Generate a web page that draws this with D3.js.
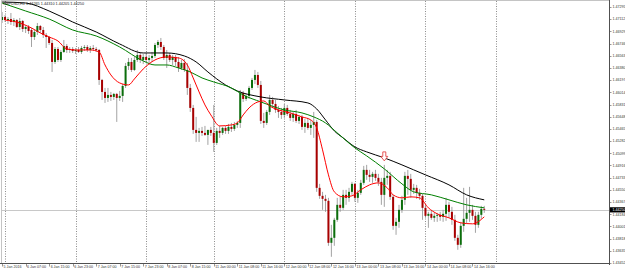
<!DOCTYPE html>
<html>
<head>
<meta charset="utf-8">
<script src="https://cdn.jsdelivr.net/npm/d3@7"></script>
<style>
  body { margin: 0; background: #fff; }
  svg { display: block; }
</style>
</head>
<body>
<script>
// GBPUSD,H1 - 5 Jan 23:00 .. 14 Jan 20:00, one bar per hour
const symbol = "GBPUSD,H1";

const open = [
  1.47100,1.47145,1.47100,1.47115,1.47070,1.47100,1.46995,1.47085,1.46965,1.46995,
  1.46950,1.46845,1.46920,1.47010,1.46950,1.46875,1.46845,1.46755,1.46470,1.46665,
  1.46500,1.46620,1.46710,1.46650,1.46665,1.46635,1.46650,1.46620,1.46680,1.46695,
  1.46650,1.46680,1.46665,1.46650,1.46200,1.46020,1.45930,1.45975,1.45945,1.45990,
  1.45930,1.45960,1.46110,1.46410,1.46470,1.46350,1.46500,1.46575,1.46500,1.46545,
  1.46500,1.46530,1.46560,1.46725,1.46770,1.46695,1.46530,1.46575,1.46500,1.46545,
  1.46470,1.46380,1.46455,1.46350,1.46080,1.45780,1.45450,1.45405,1.45435,1.45405,
  1.45375,1.45450,1.45405,1.45255,1.45435,1.45405,1.45480,1.45435,1.45495,1.45465,
  1.45525,1.45555,1.46005,1.45915,1.45960,1.46080,1.46200,1.46275,1.46125,1.45585,
  1.45555,1.45720,1.45900,1.45840,1.45750,1.45720,1.45675,1.45780,1.45690,1.45630,
  1.45690,1.45585,1.45645,1.45495,1.45555,1.45480,1.45525,1.45570,1.44580,1.44460,
  1.44415,1.44385,1.43755,1.43830,1.44100,1.44325,1.44280,1.44475,1.44430,1.44520,
  1.44640,1.44430,1.44505,1.44655,1.44850,1.44775,1.44745,1.44790,1.44730,1.44670,
  1.44475,1.44730,1.44760,1.44445,1.44010,1.44070,1.44250,1.44400,1.44760,1.44715,
  1.44550,1.44580,1.44505,1.44460,1.44280,1.44160,1.44190,1.44130,1.44160,1.44175,
  1.44145,1.44190,1.44325,1.44220,1.44100,1.43830,1.43725,1.44010,1.44115,1.44205,
  1.44250,1.44160,1.44025,1.44175,1.44265
];
const high = [
  1.47220,1.47175,1.47145,1.47205,1.47130,1.47115,1.47130,1.47100,1.47025,1.47025,
  1.46980,1.46950,1.47055,1.47025,1.46995,1.46905,1.46860,1.46800,1.46695,1.46695,
  1.46650,1.46800,1.46740,1.46695,1.46695,1.46680,1.46695,1.46710,1.46725,1.46725,
  1.46710,1.46725,1.46695,1.46665,1.46215,1.46080,1.46080,1.46020,1.46005,1.46005,
  1.46035,1.46140,1.46455,1.46530,1.46530,1.46545,1.46650,1.46620,1.46590,1.46605,
  1.46575,1.46620,1.46755,1.46800,1.46830,1.46725,1.46650,1.46605,1.46575,1.46575,
  1.46545,1.46500,1.46515,1.46455,1.46140,1.45825,1.45645,1.45480,1.45495,1.45510,
  1.45450,1.45495,1.45825,1.45480,1.45510,1.45495,1.45510,1.45540,1.45555,1.45570,
  1.45585,1.46050,1.46035,1.45990,1.46110,1.46230,1.46350,1.46320,1.46185,1.45705,
  1.45750,1.45975,1.45945,1.45900,1.45810,1.45780,1.45840,1.45825,1.45750,1.45720,
  1.45750,1.45675,1.45675,1.45615,1.45630,1.45600,1.45720,1.45600,1.44640,1.44520,
  1.44475,1.44430,1.44025,1.44130,1.44430,1.44445,1.44550,1.44550,1.44580,1.44670,
  1.44655,1.44550,1.44700,1.44910,1.44925,1.44850,1.44820,1.44850,1.44790,1.44730,
  1.44925,1.44850,1.44820,1.44475,1.44130,1.44325,1.44460,1.44820,1.44850,1.44790,
  1.44640,1.44625,1.44565,1.44490,1.44325,1.44220,1.44235,1.44205,1.44205,1.44220,
  1.44250,1.44430,1.44370,1.44295,1.44175,1.43875,1.44070,1.44580,1.44430,1.44595,
  1.44325,1.44220,1.44220,1.44310,1.44310
];
const low = [
  1.47055,1.47070,1.47040,1.47025,1.47010,1.46980,1.46950,1.46920,1.46905,1.46890,
  1.46695,1.46800,1.46875,1.46905,1.46830,1.46680,1.46725,1.46320,1.46440,1.46470,
  1.46470,1.46605,1.46605,1.46605,1.46605,1.46590,1.46605,1.46590,1.46635,1.46620,
  1.46605,1.46635,1.46620,1.46125,1.45900,1.45855,1.45870,1.45885,1.45900,1.45570,
  1.45885,1.45870,1.46080,1.46350,1.46320,1.46335,1.46470,1.46455,1.46440,1.46470,
  1.46425,1.46470,1.46530,1.46680,1.46650,1.46500,1.46380,1.46470,1.46425,1.46410,
  1.46320,1.46350,1.46320,1.45975,1.45720,1.45390,1.45270,1.45270,1.45360,1.45360,
  1.45225,1.45360,1.45120,1.45225,1.45330,1.45375,1.45390,1.45390,1.45420,1.45435,
  1.45480,1.45480,1.45870,1.45885,1.45915,1.46050,1.46140,1.46080,1.45540,1.45480,
  1.45525,1.45675,1.45780,1.45705,1.45630,1.45615,1.45630,1.45660,1.45585,1.45570,
  1.45555,1.45540,1.45450,1.45405,1.45450,1.45375,1.45330,1.44520,1.44415,1.44250,
  1.44220,1.43710,1.43545,1.43710,1.44070,1.44220,1.44250,1.44325,1.44370,1.44475,
  1.44370,1.44355,1.44475,1.44625,1.44700,1.44670,1.44655,1.44685,1.44610,1.44325,
  1.44295,1.44625,1.44400,1.43950,1.43875,1.43980,1.44205,1.44325,1.44475,1.44430,
  1.44490,1.44415,1.44400,1.44100,1.44130,1.43980,1.44100,1.44070,1.44070,1.44085,
  1.44070,1.44085,1.44130,1.44025,1.43785,1.43650,1.43680,1.43920,1.44040,1.44070,
  1.44100,1.43905,1.43980,1.44115,1.44205
];
const close = [
  1.47145,1.47100,1.47115,1.47070,1.47100,1.46995,1.47085,1.46965,1.46995,1.46935,
  1.46845,1.46920,1.47010,1.46950,1.46875,1.46845,1.46755,1.46470,1.46665,1.46500,
  1.46620,1.46710,1.46650,1.46665,1.46635,1.46650,1.46620,1.46680,1.46695,1.46650,
  1.46680,1.46665,1.46650,1.46200,1.46020,1.45930,1.45975,1.45945,1.45990,1.45930,
  1.45960,1.46110,1.46410,1.46470,1.46350,1.46500,1.46575,1.46500,1.46545,1.46500,
  1.46530,1.46560,1.46725,1.46770,1.46695,1.46530,1.46575,1.46500,1.46545,1.46470,
  1.46380,1.46455,1.46350,1.46080,1.45780,1.45450,1.45405,1.45435,1.45405,1.45375,
  1.45450,1.45405,1.45255,1.45435,1.45405,1.45480,1.45435,1.45495,1.45465,1.45525,
  1.45555,1.46005,1.45915,1.45960,1.46080,1.46200,1.46275,1.46125,1.45585,1.45555,
  1.45720,1.45900,1.45840,1.45750,1.45720,1.45675,1.45780,1.45690,1.45630,1.45690,
  1.45585,1.45645,1.45495,1.45555,1.45480,1.45525,1.45570,1.44580,1.44460,1.44415,
  1.44385,1.43755,1.43830,1.44100,1.44325,1.44280,1.44475,1.44430,1.44520,1.44640,
  1.44430,1.44505,1.44655,1.44850,1.44775,1.44745,1.44790,1.44730,1.44670,1.44475,
  1.44730,1.44760,1.44445,1.44010,1.44070,1.44250,1.44400,1.44760,1.44715,1.44550,
  1.44580,1.44505,1.44460,1.44280,1.44160,1.44190,1.44130,1.44160,1.44175,1.44145,
  1.44190,1.44325,1.44220,1.44100,1.43830,1.43725,1.44010,1.44115,1.44205,1.44250,
  1.44160,1.44025,1.44175,1.44265,1.44250
];

// moving averages at these bars
const maBlackBars = [0,8,16,24,32,40,48,56,62,66,70,76,80,88,96,104,107,110,113,116,120,124,130,136,140,144,152,158,164];
const maBlack = [1.47370,1.47355,1.47235,1.47070,1.46920,1.46740,1.46605,1.46605,1.46560,1.46470,1.46320,1.46125,1.46035,1.45945,1.45900,1.45855,1.45765,1.45600,1.45435,1.45330,1.45195,1.45120,1.45030,1.44925,1.44850,1.44775,1.44625,1.44475,1.44400];
const maGreenBars = [0,8,16,24,32,40,48,52,56,60,64,68,72,78,82,88,96,102,106,110,114,120,124,130,136,140,146,152,158,164];
const maGreen = [1.47355,1.47235,1.47115,1.46950,1.46860,1.46695,1.46485,1.46425,1.46425,1.46380,1.46320,1.46230,1.46170,1.46080,1.45975,1.45870,1.45750,1.45705,1.45645,1.45555,1.45405,1.45180,1.45060,1.44865,1.44640,1.44520,1.44475,1.44400,1.44325,1.44280];
const maRedBars = [1,6,10,13,16,19,22,25,30,33,35,37,40,43,45,48,52,56,60,63,65,67,69,71,74,78,80,82,84,87,89,91,94,98,102,105,107,109,111,113,116,119,122,125,128,131,133,136,139,142,145,148,152,156,160,164];
const maRed = [1.47100,1.47055,1.46980,1.46905,1.46845,1.46785,1.46665,1.46650,1.46650,1.46620,1.46425,1.46275,1.46155,1.46125,1.46215,1.46365,1.46500,1.46545,1.46530,1.46425,1.46230,1.46020,1.45825,1.45675,1.45510,1.45525,1.45555,1.45675,1.45780,1.45870,1.45885,1.45810,1.45750,1.45705,1.45645,1.45600,1.45480,1.45150,1.44775,1.44520,1.44445,1.44460,1.44550,1.44625,1.44655,1.44580,1.44475,1.44430,1.44445,1.44430,1.44280,1.44190,1.44130,1.44055,1.44040,1.44145];

// fractal arrow
const arrowBar = 130, arrowPrice = 1.45120;

// day separators (first bar of each day)
const dayStarts = [1,25,49,72,96,120,144,168];

// time axis
const timeBars = [0,8,16,24,32,40,48,56,64,72,80,88,96,104,112,120,128,136,144,152,160];
const timeLabels = ["5 Jan 2016","6 Jan 07:00","6 Jan 15:00","6 Jan 23:00","7 Jan 07:00","7 Jan 15:00","7 Jan 23:00",
  "8 Jan 07:00","8 Jan 15:00","11 Jan 00:00","11 Jan 08:00","11 Jan 16:00","12 Jan 00:00","12 Jan 08:00","12 Jan 16:00",
  "13 Jan 00:00","13 Jan 08:00","13 Jan 16:00","14 Jan 00:00","14 Jan 08:00","14 Jan 16:00"];

// price axis
const priceTicks = [1.43452,1.43635,1.43818,1.44001,1.44184,1.44367,1.44550,1.44733,1.44916,1.45099,1.45282,
  1.45465,1.45648,1.45831,1.46014,1.46197,1.46380,1.46563,1.46746,1.46929,1.47112,1.47295];

const W = 625, H = 270;
const plotL = 2, plotR = 609, plotT = 1, plotB = 263;

const svg = d3.select("body").append("svg")
  .attr("width", W).attr("height", H)
  .style("font-family", "'Liberation Sans', Arial, sans-serif");

const x = d3.scaleLinear().domain([0, 1]).range([2.1, 5.04]);
const y = d3.scaleLinear().domain([priceTicks[0], priceTicks[priceTicks.length - 1]]).range([263, 7]);

svg.append("defs").append("clipPath").attr("id", "plot")
  .append("rect").attr("x", plotL).attr("y", plotT).attr("width", plotR - plotL).attr("height", plotB - plotT);

// frame
svg.append("line").attr("x1", plotL).attr("x2", plotR).attr("y1", 0.5).attr("y2", 0.5).attr("stroke", "#c4c4c4");
svg.append("line").attr("x1", 1.5).attr("x2", 1.5).attr("y1", 0).attr("y2", plotB).attr("stroke", "#c4c4c4");

// day separators
svg.append("g").selectAll("line").data(dayStarts).join("line")
  .attr("x1", d => Math.round(x(d)) + 0.5).attr("x2", d => Math.round(x(d)) + 0.5)
  .attr("y1", plotT).attr("y2", plotB)
  .attr("stroke", "#707070").attr("stroke-width", 0.8).attr("stroke-dasharray", "1,1.5");

// last price line
const last = close[close.length - 1];
svg.append("line").attr("x1", plotL).attr("x2", plotR)
  .attr("y1", Math.round(y(last)) + 0.5).attr("y2", Math.round(y(last)) + 0.5)
  .attr("stroke", "#c8c8c8");

const plot = svg.append("g").attr("clip-path", "url(#plot)");

// candles
const bars = d3.range(open.length);
plot.append("g").selectAll("line").data(bars).join("line")
  .attr("x1", i => x(i)).attr("x2", i => x(i))
  .attr("y1", i => y(high[i])).attr("y2", i => y(low[i]))
  .attr("stroke", "#8c8c8c").attr("stroke-width", 0.8);

plot.append("g").selectAll("rect").data(bars).join("rect")
  .attr("x", i => x(i) - 1).attr("width", 2)
  .attr("y", i => y(Math.max(open[i], close[i])))
  .attr("height", i => Math.max(0.7, Math.abs(y(open[i]) - y(close[i]))))
  .attr("fill", i => close[i] > open[i] ? "#0b6e0b" : (close[i] < open[i] ? "#a80000" : "#8c8c8c"));

// moving averages
const maLine = d3.line().x(d => x(d[0])).y(d => y(d[1])).curve(d3.curveMonotoneX);
[[maBlackBars, maBlack, "#000000"], [maGreenBars, maGreen, "#008000"], [maRedBars, maRed, "#ff0000"]]
  .forEach(([b, v, c]) => {
    plot.append("path").datum(b.map((k, j) => [k, v[j]]))
      .attr("d", maLine).attr("fill", "none").attr("stroke", c).attr("stroke-width", 1);
  });

// arrow
const ax = x(arrowBar), ay = y(arrowPrice);
svg.append("path")
  .attr("d", `M${ax - 1.5},${ay} h3 v4.5 h2 l-3.5,4.5 l-3.5,-4.5 h2 z`)
  .attr("fill", "#fff").attr("stroke", "#e03030").attr("stroke-width", 0.8);

// price axis
svg.append("line").attr("x1", plotR + 0.5).attr("x2", plotR + 0.5).attr("y1", 0).attr("y2", plotB + 2)
  .attr("stroke", "#505050");
const py = svg.append("g");
py.selectAll("line").data(priceTicks).join("line")
  .attr("x1", plotR).attr("x2", plotR + 2.5)
  .attr("y1", d => Math.round(y(d)) + 0.5).attr("y2", d => Math.round(y(d)) + 0.5)
  .attr("stroke", "#505050").attr("stroke-width", 0.6);
py.selectAll("text").data(priceTicks).join("text")
  .attr("x", plotR + 3.5).attr("y", d => y(d) + 1.3)
  .attr("font-size", 3.6).attr("fill", "#333")
  .text(d => d.toFixed(5));

// last price box
svg.append("rect").attr("x", plotR + 1).attr("y", y(last) - 2.6).attr("width", 15).attr("height", 5.2).attr("fill", "#000");
svg.append("text").attr("x", plotR + 3.5).attr("y", y(last) + 1.3)
  .attr("font-size", 3.6).attr("fill", "#fff").text(last.toFixed(5));

// time axis
svg.append("line").attr("x1", 0).attr("x2", plotR + 1).attr("y1", plotB + 0.5).attr("y2", plotB + 0.5)
  .attr("stroke", "#505050");
const tx = svg.append("g");
tx.selectAll("line").data(timeBars).join("line")
  .attr("x1", i => Math.round(x(i)) + 0.5).attr("x2", i => Math.round(x(i)) + 0.5)
  .attr("y1", plotB).attr("y2", plotB + 3.5)
  .attr("stroke", "#505050").attr("stroke-width", 0.6);
tx.selectAll("text").data(timeBars).join("text")
  .attr("x", i => x(i) + 1.5).attr("y", plotB + 5)
  .attr("font-size", 3.6).attr("fill", "#333")
  .text((i, k) => timeLabels[k]);

// title
svg.append("text").attr("x", 3).attr("y", 5)
  .attr("font-size", 3.8).attr("fill", "#222")
  .text(`${symbol}  ${open[open.length - 1].toFixed(5)} ${high[high.length - 1].toFixed(5)} ${low[low.length - 1].toFixed(5)} ${last.toFixed(5)}`);
</script>
</body>
</html>
